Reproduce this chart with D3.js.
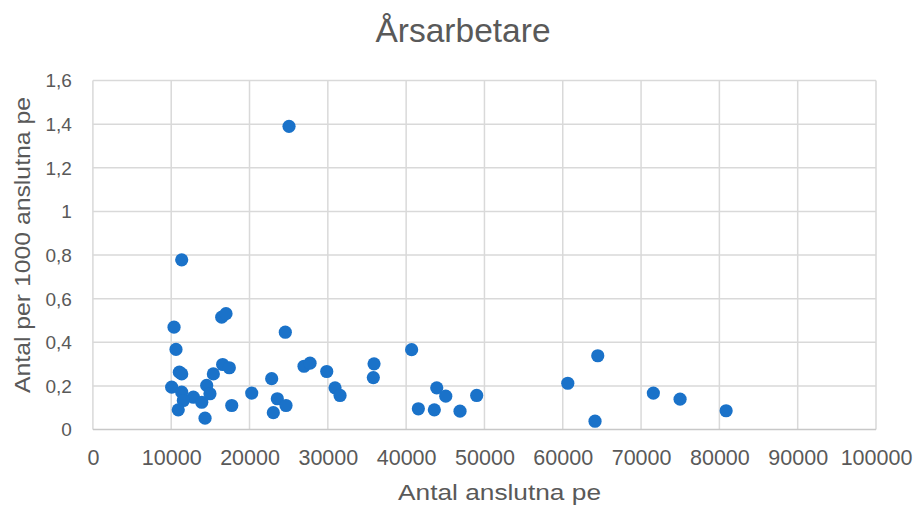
<!DOCTYPE html>
<html>
<head>
<meta charset="utf-8">
<script src="https://cdn.jsdelivr.net/npm/d3@7"></script>
<style>
  html, body { margin: 0; padding: 0; background: #fff; }
  svg { display: block; font-family: "Liberation Sans", Arial, sans-serif; }
</style>
</head>
<body>
<svg id="chart" width="919" height="506"></svg>
<script>
// Antal anslutna pe per reningsverk
const anslutnaPe = [
  25045, 11340, 10360, 10610, 16450, 17000, 24570, 40700, 64470, 11040,
  11340, 15380, 16570, 17420, 10060, 11340, 12830, 11550, 10900, 14530,
  14950, 13900, 14320, 17730, 20280, 22830, 23550, 24660, 23040, 26960,
  27730, 29860, 30920, 31560, 35900, 35810, 43910, 45060, 41560, 43600,
  46880, 49010, 60640, 64120, 71570, 74980, 80860
];
// Årsarbetare per 1000 anslutna pe
const antalPer1000 = [
  1.390, 0.778, 0.469, 0.367, 0.515, 0.531, 0.446, 0.366, 0.338, 0.263,
  0.255, 0.255, 0.298, 0.283, 0.194, 0.171, 0.148, 0.133, 0.090, 0.202,
  0.164, 0.125, 0.052, 0.110, 0.167, 0.233, 0.141, 0.110, 0.077, 0.290,
  0.304, 0.266, 0.191, 0.156, 0.301, 0.238, 0.191, 0.153, 0.095, 0.090,
  0.084, 0.156, 0.212, 0.038, 0.167, 0.139, 0.086
];
const xTicks = [0, 10000, 20000, 30000, 40000, 50000, 60000, 70000, 80000, 90000, 100000];
const yTicks = [0, 0.2, 0.4, 0.6, 0.8, 1.0, 1.2, 1.4, 1.6];

const title = "Årsarbetare";
const xTitle = "Antal anslutna pe";
const yTitle = "Antal per 1000 anslutna pe";

const svg = d3.select("#chart");
const plot = { left: 92.9, right: 876, top: 80.5, bottom: 429.5 };
const textColor = "#595959";
const gridColor = "#d9d9d9";
const dotColor = "#1a72c9";

const x = d3.scaleLinear().domain([0, 100000]).range([plot.left, plot.right]);
const y = d3.scaleLinear().domain([0, 1.6]).range([plot.bottom, plot.top]);

const fmtY = v => d3.format(".1f")(v).replace(".0", "").replace(".", ",");

// gridlines
const grid = svg.append("g");
grid.selectAll("line.v").data(xTicks).join("line")
  .attr("x1", d => x(d)).attr("x2", d => x(d))
  .attr("y1", plot.top).attr("y2", plot.bottom)
  .attr("stroke", gridColor).attr("stroke-width", 1.5);
grid.selectAll("line.h").data(yTicks.filter(d => d > 0)).join("line")
  .attr("x1", plot.left).attr("x2", plot.right)
  .attr("y1", d => y(d)).attr("y2", d => y(d))
  .attr("stroke", gridColor).attr("stroke-width", 1.5);

// x axis baseline
svg.append("line")
  .attr("x1", plot.left).attr("x2", plot.right)
  .attr("y1", y(0)).attr("y2", y(0))
  .attr("stroke", "#c8c8c8").attr("stroke-width", 1.5);

// tick labels via d3 axes
const xAxis = d3.axisBottom(x).tickValues(xTicks).tickSize(0).tickPadding(0)
  .tickFormat(d3.format("d"));
const gx = svg.append("g").attr("transform", `translate(0,${plot.bottom})`).call(xAxis);
gx.select(".domain").remove();
gx.selectAll("text")
  .attr("y", 35.5).attr("dy", null)
  .attr("fill", textColor).attr("font-size", 21.5)
  .attr("font-family", "Liberation Sans, Arial, sans-serif");

const yAxis = d3.axisLeft(y).tickValues(yTicks).tickSize(0).tickPadding(0)
  .tickFormat(fmtY);
const gy = svg.append("g").attr("transform", `translate(${plot.left},0)`).call(yAxis);
gy.select(".domain").remove();
gy.selectAll("text")
  .attr("x", -21).attr("dy", "0.34em")
  .attr("fill", textColor).attr("font-size", 19)
  .attr("font-family", "Liberation Sans, Arial, sans-serif");

// markers
const pts = anslutnaPe.map((v, i) => ({ x: v, y: antalPer1000[i] }));
svg.append("g").selectAll("circle").data(pts).join("circle")
  .attr("cx", d => x(d.x)).attr("cy", d => y(d.y))
  .attr("r", 6.6).attr("fill", dotColor);

// titles
svg.append("text").text(title)
  .attr("x", 463).attr("y", 42).attr("text-anchor", "middle")
  .attr("fill", textColor).attr("font-size", 33.5);

svg.append("text").text(xTitle)
  .attr("x", 499.5).attr("y", 499.5).attr("text-anchor", "middle")
  .attr("textLength", 203).attr("lengthAdjust", "spacingAndGlyphs")
  .attr("fill", textColor).attr("font-size", 22.5);

svg.append("text").text(yTitle)
  .attr("transform", "translate(29.5,245) rotate(-90)")
  .attr("text-anchor", "middle")
  .attr("textLength", 296).attr("lengthAdjust", "spacingAndGlyphs")
  .attr("fill", textColor).attr("font-size", 22.5);
</script>
</body>
</html>
